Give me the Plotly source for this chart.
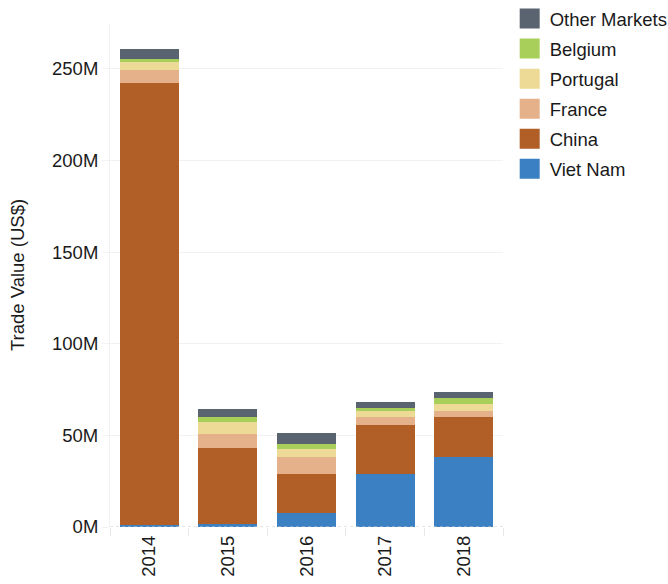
import plotly.graph_objects as go

years = ["2014", "2015", "2016", "2017", "2018"]
# values in millions of US$
viet_nam = [1.0, 1.8, 7.4, 28.7, 38.1]
china = [241.0, 41.4, 21.3, 26.8, 21.7]
france = [7.2, 7.6, 9.3, 4.3, 3.3]
portugal = [4.5, 6.6, 4.3, 3.3, 3.8]
belgium = [1.5, 2.7, 2.8, 1.7, 3.3]
other = [5.8, 4.4, 6.0, 3.2, 3.3]

series = [
    ("Viet Nam", viet_nam, "#3b80c3"),
    ("China", china, "#b15e27"),
    ("France", france, "#e4b18a"),
    ("Portugal", portugal, "#ecda96"),
    ("Belgium", belgium, "#a9cf5b"),
    ("Other Markets", other, "#5a6470"),
]
y_ticks = [0, 50, 100, 150, 200, 250]

fig = go.Figure()
for name, vals, col in series:
    fig.add_trace(go.Bar(x=years, y=vals, name=name, marker=dict(color=col, line=dict(width=0)),
                         showlegend=False))
for name, vals, col in reversed(series):
    fig.add_trace(go.Scatter(x=[None], y=[None], mode="markers", name=name, legendgroup=name,
                             marker=dict(symbol="square", size=16, color=col,
                                         line=dict(color=col, width=4))))

font = "Liberation Sans, Arial, sans-serif"
fs = 18.5
fig.update_layout(
    barmode="stack",
    bargap=0.25,
    width=668, height=584,
    margin=dict(l=110, r=165, t=23, b=57, autoexpand=False),
    paper_bgcolor="white", plot_bgcolor="white",
    font=dict(family=font, size=fs, color="#1a1a1a"),
    legend=dict(xref="container", yref="container", x=0.763, y=1.0,
                xanchor="left", yanchor="top", traceorder="grouped",
                tracegroupgap=3, font=dict(size=fs, color="#1a1a1a"), itemsizing="trace"),
    xaxis=dict(type="category", tickangle=-90, tickson="boundaries", ticks="outside",
               ticklen=8, tickcolor="#e8e8e8", showgrid=False, showline=False,
               automargin=False, ticklabelstandoff=4,
               tickfont=dict(size=fs, color="#1a1a1a")),
    yaxis=dict(range=[0, 275], tickvals=y_ticks, ticktext=[f"{v}M" for v in y_ticks],
               showgrid=True, gridcolor="#f2f2f2", ticks="outside", ticklen=7,
               tickcolor="#f2f2f2", showline=True, linecolor="#f2f2f2", zeroline=False,
               automargin=False,
               title=dict(text="Trade Value (US$)", font=dict(size=fs, color="#1a1a1a"), standoff=22),
               tickfont=dict(size=fs, color="#1a1a1a")),
    shapes=[dict(type="line", xref="paper", yref="y", x0=0, x1=1, y0=0, y1=0,
                 line=dict(color="#cccccc", width=1, dash="3px,3px"))],
)
fig.write_html("out.html")
